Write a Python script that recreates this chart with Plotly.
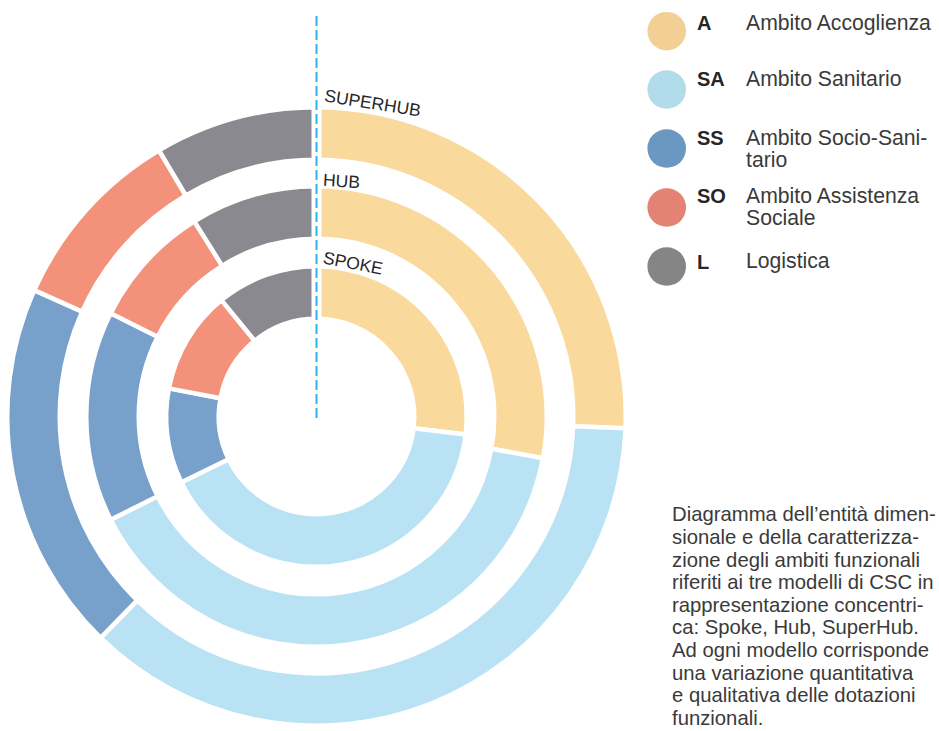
import plotly.graph_objects as go

W, H = 939, 731

# Functional areas, drawn clockwise from 12 o'clock
codes = ["A", "SA", "SS", "SO", "L"]
legend_lines = [
    ["Ambito Accoglienza"],
    ["Ambito Sanitario"],
    ["Ambito Socio-Sani-", "tario"],
    ["Ambito Assistenza", "Sociale"],
    ["Logistica"],
]
ring_colors = ["#FAD99D", "#B9E2F5", "#77A1CB", "#F4917A", "#8A898F"]
legend_colors = ["#F2D095", "#B3DCEA", "#6B98C1", "#E28373", "#858585"]

# Share (%) of each functional area in the three CSC models
spoke = [26.9, 40.9, 10.2, 11.1, 10.9]
hub = [27.9, 39.7, 14.8, 8.7, 8.9]
superhub = [25.6, 36.7, 19.4, 9.8, 8.5]
models = ["SPOKE", "HUB", "SUPERHUB"]

caption = [
    "Diagramma dell\u2019entità dimen-",
    "sionale e della caratterizza-",
    "zione degli ambiti funzionali",
    "riferiti ai tre modelli di CSC in",
    "rappresentazione concentri-",
    "ca: Spoke, Hub, SuperHub.",
    "Ad ogni modello corrisponde",
    "una variazione quantitativa",
    "e qualitativa delle dotazioni",
    "funzionali.",
]

FONT = "Liberation Sans, Arial, Helvetica, sans-serif"

# ring layout (pixels)
CX, CY = 316.5, 416.5
INNER = [100, 180, 259]
THICK = 48
GAP = 4.5

fig = go.Figure()


def px(x):
    return x / W


def py(y):
    return 1 - y / H


for name, vals, r_in in zip(models, [spoke, hub, superhub], INNER):
    r_out = r_in + THICK + GAP / 2
    hole = (r_in - GAP / 2) / r_out
    fig.add_trace(go.Pie(
        values=vals,
        labels=codes,
        name=name,
        hole=hole,
        sort=False,
        direction="clockwise",
        rotation=0,
        textinfo="none",
        hovertemplate=name + " – %{label}: %{value}%<extra></extra>",
        marker=dict(colors=ring_colors, line=dict(color="white", width=GAP)),
        domain=dict(x=[px(CX - r_out), px(CX + r_out)],
                    y=[py(CY + r_out), py(CY - r_out)]),
        showlegend=False,
    ))

shapes = []
# wider separator at 12 o'clock with the dashed axis on top
shapes.append(dict(type="line", xref="paper", yref="paper",
                   x0=px(CX), x1=px(CX), y0=py(CY), y1=py(CY - INNER[-1] - THICK - 2),
                   line=dict(color="white", width=10), layer="above"))
shapes.append(dict(type="line", xref="paper", yref="paper",
                   x0=px(CX), x1=px(CX), y0=py(418), y1=py(12),
                   line=dict(color="#2AB6EA", width=2, dash="10px,4px"), layer="above"))

# legend swatches
LEG_CX, LEG_R = 666.7, 19.3
leg_cy = [31.2, 89.5, 148.5, 207.5, 266.5]
for c, yc in zip(legend_colors, leg_cy):
    shapes.append(dict(type="circle", xref="paper", yref="paper",
                       x0=px(LEG_CX - LEG_R), x1=px(LEG_CX + LEG_R),
                       y0=py(yc + LEG_R), y1=py(yc - LEG_R),
                       fillcolor=c, line=dict(width=0), layer="above"))

annotations = []


def label(x, baseline, s, size, color="#2e2e2e", anchor="left", angle=0, center=None):
    yc = baseline - 0.3465 * size if center is None else center
    annotations.append(dict(
        x=px(x), y=py(yc), xref="paper", yref="paper", text=s, showarrow=False,
        xanchor=anchor, yanchor="middle", textangle=angle, borderpad=0,
        font=dict(family=FONT, size=size, color=color),
    ))


# legend texts
leg_base = [30.0, 85.5, 144.5, 203.0, 268.5]
for code, lines, b in zip(codes, legend_lines, leg_base):
    label(696.0, b, "<b>" + code + "</b>", 20, color="#262626")
    for i, ln in enumerate(lines):
        label(745.0, b + 22 * i, ln, 21.2, color="#3a3a3a")

# caption
for i, ln in enumerate(caption):
    label(670.5, 521.5 + 22.6 * i, ln, 20.3, color="#3a3a3a")

# ring names along the top of each ring
label(352.5, 0, "SPOKE", 17.5, color="#262626", anchor="center", angle=11, center=262.8)
label(341.5, 0, "HUB", 17.5, color="#262626", anchor="center", angle=3.5, center=181.0)
label(372.5, 0, "SUPERHUB", 17.5, color="#262626", anchor="center", angle=9, center=103.5)

fig.update_layout(
    width=W, height=H,
    margin=dict(l=0, r=0, t=0, b=0),
    paper_bgcolor="white", plot_bgcolor="white",
    showlegend=False,
    shapes=shapes,
    annotations=annotations,
)

fig.write_html("out.html")
